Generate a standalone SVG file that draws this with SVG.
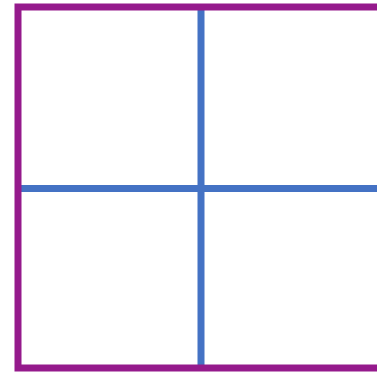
<svg xmlns="http://www.w3.org/2000/svg" width="377" height="377" viewBox="0 0 377 377">
<style>
.frame{fill:none;stroke:#951a8c;stroke-width:7}
.grid{stroke:#4472c4;stroke-width:7;fill:none}
</style>
<rect width="377" height="377" fill="#ffffff"/>
<g id="grid-lines">
<line class="grid" x1="201" y1="7" x2="201" y2="368"/>
<line class="grid" x1="18" y1="188.5" x2="380" y2="188.5"/>
</g>
<g id="frame">
<rect class="frame" x="18" y="7" width="380" height="361"/>
</g>
</svg>
